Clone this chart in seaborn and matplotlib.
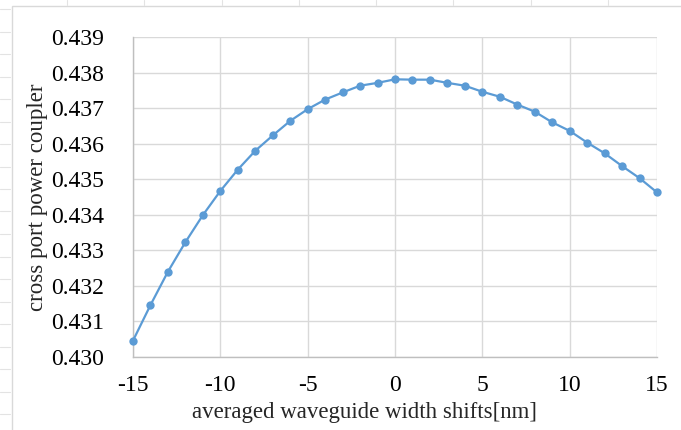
import matplotlib
matplotlib.use("Agg")
import matplotlib.pyplot as plt
import seaborn as sns
import pandas as pd
from matplotlib.patches import Rectangle
from matplotlib.lines import Line2D

shift_nm = list(range(-15, 16))
coupler = [0.43046, 0.43146, 0.43240, 0.43323, 0.43399, 0.43467, 0.43527, 0.43580,
           0.43623, 0.43664, 0.43697, 0.43724, 0.43744, 0.43763, 0.43771, 0.43781,
           0.43780, 0.43780, 0.43771, 0.43763, 0.43746, 0.43732, 0.43710, 0.43690,
           0.43660, 0.43636, 0.43603, 0.43573, 0.43537, 0.43503, 0.43463]
x_ticks = [-15, -10, -5, 0, 5, 10, 15]
y_ticks = [0.430, 0.431, 0.432, 0.433, 0.434, 0.435, 0.436, 0.437, 0.438, 0.439]

df = pd.DataFrame({"shift": shift_nm, "coupler": coupler})

sns.set_theme(style="white")
plt.rcParams['font.family'] = ['Liberation Serif', 'DejaVu Serif']

W, H = 681, 430
fig = plt.figure(figsize=(W/100, H/100), dpi=100)
ax = fig.add_axes([133/W, 1-357/H, (657-133)/W, (357-37)/H])

# spreadsheet background: faint cell ticks and chart-area border
for i in range(20):
    yy = 9 + 22.5*i
    if yy < H:
        fig.lines.append(Line2D([0, 10/W], [1-yy/H, 1-yy/H], transform=fig.transFigure,
                                color='#E3E3E3', linewidth=0.8))
for i in range(10):
    xx = 67 + 77.3*i
    if xx < W:
        fig.lines.append(Line2D([xx/W, xx/W], [1, 1-5/H], transform=fig.transFigure,
                                color='#E3E3E3', linewidth=0.8))
fig.patches.append(Rectangle((12/W, -0.1), 1.2, (1-6/H)+0.1, transform=fig.transFigure,
                             fill=False, edgecolor='#D9D9D9', linewidth=1.0, zorder=0))

sns.lineplot(data=df, x="shift", y="coupler", ax=ax, color='#5B9BD5', linewidth=1.6,
             marker='o', markersize=6, markeredgewidth=0, clip_on=False, zorder=3)

ax.set_xlim(-15, 15)
ax.set_ylim(0.430, 0.439)
ax.set_xticks(x_ticks)
ax.set_xticklabels([str(t) for t in x_ticks])
ax.set_yticks(y_ticks)
ax.set_yticklabels([f"{t:.3f}" for t in y_ticks])
ax.tick_params(axis='both', length=0, labelsize=17, colors='#000000')
ax.tick_params(axis='y', pad=21)
ax.tick_params(axis='x', pad=13)
ax.grid(True, color='#D9D9D9', linewidth=1.0)
for side in ['top', 'right']:
    ax.spines[side].set_visible(False)
for side in ['left', 'bottom']:
    ax.spines[side].set_color('#BFBFBF')
    ax.spines[side].set_linewidth(1.0)

ax.set_xlabel("averaged waveguide width shifts[nm]", fontsize=16.5)
ax.xaxis.set_label_coords((364-133)/524, -(402-357)/320)
ax.set_ylabel("cross port power coupler", fontsize=16.5, labelpad=2)

fig.savefig("out.png", dpi=100)
